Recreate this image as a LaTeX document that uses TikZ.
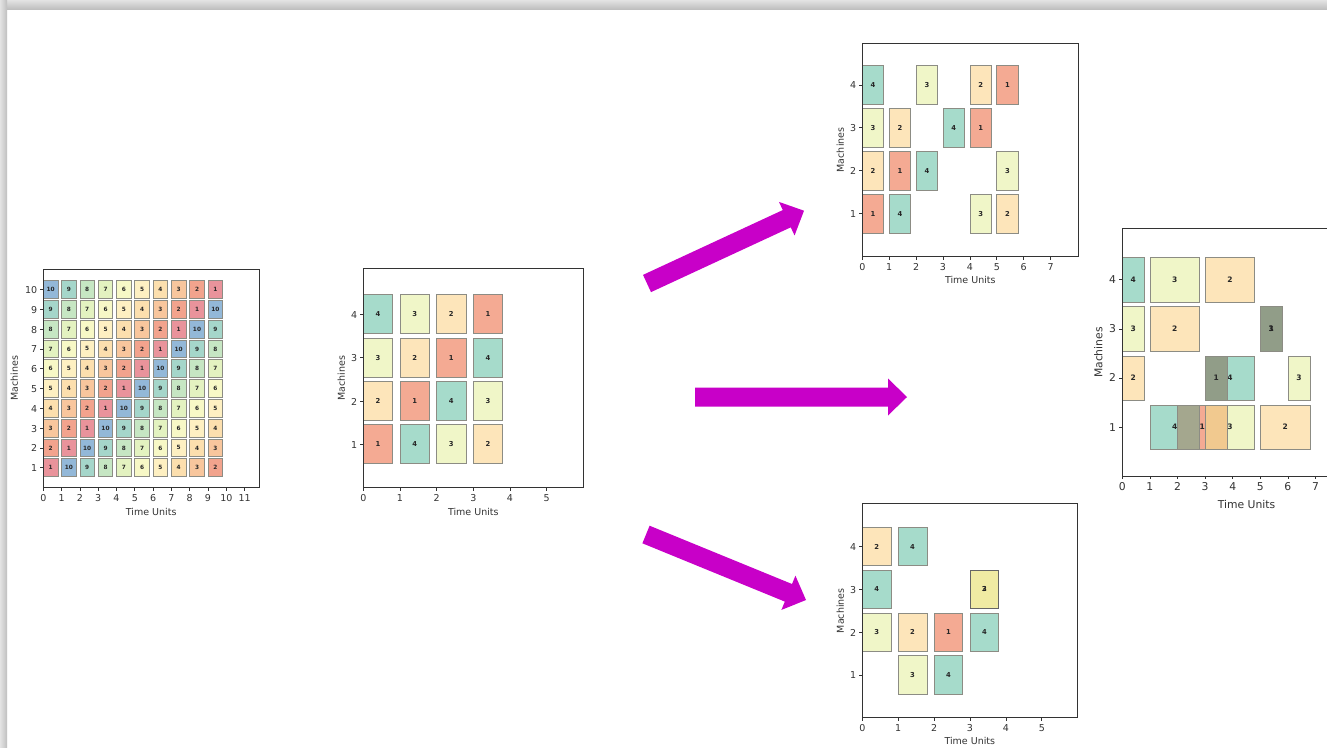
\documentclass[tikz,border=0pt]{standalone}
\usepackage{fontspec}
\setmainfont{DejaVu Sans}
\usetikzlibrary{calc}
\definecolor{sa1}{HTML}{E9939B}
\definecolor{sa2}{HTML}{F2A38D}
\definecolor{sa3}{HTML}{F8C69D}
\definecolor{sa4}{HTML}{FCDFAE}
\definecolor{sa5}{HTML}{FEF0C2}
\definecolor{sa6}{HTML}{F7F8C6}
\definecolor{sa7}{HTML}{E3F2C0}
\definecolor{sa8}{HTML}{C6E6C3}
\definecolor{sa9}{HTML}{A5D6CA}
\definecolor{sa10}{HTML}{93B8D8}
\definecolor{jb1}{HTML}{F4AA93}
\definecolor{jb2}{HTML}{FDE5BA}
\definecolor{jb3}{HTML}{F0F6C8}
\definecolor{jb4}{HTML}{A6DBCB}
\definecolor{dk1}{HTML}{919D88}
\definecolor{dk2}{HTML}{A4A78E}
\definecolor{orng}{HTML}{F1C98F}
\definecolor{ovy}{HTML}{F0EBA3}
\definecolor{arrowcol}{HTML}{C800C8}
\definecolor{edge}{HTML}{8C8C84}
\definecolor{axc}{HTML}{333333}

\newcounter{bn}
\newcommand\jobbox[5]{%
  \stepcounter{bn}%
  \filldraw[barstyle, fill=#1] (#3,#4-0.45) rectangle (#3+#5,#4+0.45);
  \node[barlab] (bx\arabic{bn}) at (#3+#5/2,#4) {#2};}

% #1 prefix #2 xmax #3 ymax #4 last xtick #5 last ytick #6 ylabel xshift #7 xlabel yshift
\newcommand\ganttframe[7]{%
  \draw[frame] (0,0) rectangle (#2,#3);
  \foreach \k in {0,...,#4}{\draw[tick] (\k,0) -- ++(0,-3pt);
    \node[ticklab] (#1x\k) at (\k,0) [yshift=-10pt] {\k};}
  \foreach \k in {1,...,#5}{\draw[tick] (0,\k) -- ++(-3pt,0);
    \node[ticklab,anchor=east] (#1y\k) at (0,\k) [xshift=-6pt] {\k};}
  \node[axlab] (#1xl) at (#2/2,0) [yshift=#7] {Time Units};
  \node[axlab, xshift=#6, rotate=90] (#1yl) at (0,#3/2) {Machines};}

\newcommand\blockarrow[2]{%
  \coordinate (#1b) at ($(#2)!19pt!(#1)$);
  \fill[arrowcol] ($(#1)!9.5pt!90:(#2)$) -- ($(#1b)!9.5pt!90:(#2)$) -- ($(#1b)!18.5pt!90:(#2)$)
    -- (#2) -- ($(#1b)!18.5pt!-90:(#2)$) -- ($(#1b)!9.5pt!-90:(#2)$) -- ($(#1)!9.5pt!-90:(#2)$) -- cycle;}

\begin{document}
\begin{tikzpicture}[x=1pt,y=-1pt,
  barstyle/.style={draw=edge, line width=0.8pt},
  barlab/.style={font=\fontsize{6.8}{7}\bfseries\selectfont, text=black!85, inner sep=0pt},
  frame/.style={draw=axc, line width=0.8pt},
  tick/.style={draw=axc, line width=0.7pt},
  ticklab/.style={font=\fontsize{9.5}{10}\selectfont, text=black!80, inner sep=0pt, text height=1.45ex, text depth=0pt},
  axlab/.style={font=\fontsize{9.5}{10}\selectfont, text=black!80, inner sep=0pt}]
\useasboundingbox (0,0) rectangle (1327,747);
\begin{scope}
\clip (0,0) rectangle (1327,747);
\fill[white] (0,0) rectangle (1327,747);
\shade[top color=gray!22, bottom color=gray!50] (0,0) rectangle (1327,9);
\shade[left color=gray!22, right color=gray!50] (0,0) rectangle (7,747);

% ---------- plot 1 : 10 x 10 ----------
\begin{scope}[xshift=43.3pt, yshift=-487.5pt, x=18.3pt, y=19.8pt,
  barlab/.append style={font=\fontsize{5.8}{6}\bfseries\selectfont}]
\foreach \m in {1,...,10}{\foreach \c in {0,...,9}{%
  \pgfmathtruncatemacro\jb{mod(\m-\c+9,10)+1}%
  \jobbox{sa\jb}{\jb}{\c}{\m}{0.8}}}
\ganttframe{pa}{11.79}{11.04}{11}{10}{-29pt}{-24pt}
\end{scope}

% ---------- plot 2 : 4 x 4 ----------
\begin{scope}[xshift=363.3pt, yshift=-487.7pt, x=36.67pt, y=43.33pt]
\foreach \m in {1,...,4}{\foreach \c in {0,...,3}{%
  \pgfmathtruncatemacro\jb{mod(\m-\c+7,4)+1}%
  \jobbox{jb\jb}{\jb}{\c}{\m}{0.8}}}
\ganttframe{pb}{6}{5.05}{5}{4}{-22pt}{-24pt}
\end{scope}

% ---------- plot 3 : top right ----------
\begin{scope}[xshift=862.3pt, yshift=-256.5pt, x=26.9pt, y=42.9pt]
\foreach \j/\t/\m in {4/0/4, 3/2/4, 2/4/4, 1/5/4,
                      3/0/3, 2/1/3, 4/3/3, 1/4/3,
                      2/0/2, 1/1/2, 4/2/2, 3/5/2,
                      1/0/1, 4/1/1, 3/4/1, 2/5/1}{%
  \jobbox{jb\j}{\j}{\t}{\m}{0.8}}
\ganttframe{pc}{8.03}{4.97}{7}{4}{-22pt}{-23pt}
\end{scope}

% ---------- plot 4 : bottom right ----------
\begin{scope}[xshift=862.3pt, yshift=-717.8pt, x=35.9pt, y=42.8pt]
\foreach \j/\t/\m in {2/0/4, 4/1/4,
                      4/0/3,
                      3/0/2, 2/1/2, 1/2/2, 4/3/2,
                      3/1/1, 4/2/1}{%
  \jobbox{jb\j}{\j}{\t}{\m}{0.8}}
\jobbox{ovy}{2}{3}{3}{0.8}
\draw[barstyle, draw=black!60] (3,2.55) rectangle (3.8,3.45);
\node[barlab] (pdov) at (3.4,3) {3};
\ganttframe{pd}{5.99}{5.0}{5}{4}{-22pt}{-23pt}
\end{scope}

% ---------- plot 5 : far right ----------
\begin{scope}[xshift=1122.3pt, yshift=-476.2pt, x=27.6pt, y=49.1pt,
  barlab/.append style={font=\fontsize{7.5}{8}\bfseries\selectfont},
  ticklab/.append style={font=\fontsize{10.8}{12}\selectfont},
  axlab/.append style={font=\fontsize{10.8}{12}\selectfont}]
\jobbox{jb4}{4}{0}{4}{0.8}
\jobbox{jb3}{3}{1}{4}{1.8}
\jobbox{jb2}{2}{3}{4}{1.8}
\jobbox{jb3}{3}{0}{3}{0.8}
\jobbox{jb2}{2}{1}{3}{1.8}
\jobbox{dk1}{1}{5}{3}{0.8}
\node[barlab] (peov) at (5.4,3) {3};
\jobbox{jb2}{2}{0}{2}{0.8}
\jobbox{jb4}{4}{3}{2}{1.8}
\jobbox{dk1}{1}{3}{2}{0.8}
\jobbox{jb3}{3}{6}{2}{0.8}
\jobbox{jb4}{4}{1}{1}{1.8}
\jobbox{jb1}{1}{2}{1}{1.8}
\jobbox{jb3}{3}{3}{1}{1.8}
\fill[dk2] (2,0.55) rectangle (2.8,1.45);
\fill[orng] (3,0.55) rectangle (3.8,1.45);
\draw[barstyle] (1,0.55) rectangle (2.8,1.45);
\draw[barstyle] (2,0.55) rectangle (3.8,1.45);
\draw[barstyle] (3,0.55) rectangle (4.8,1.45);
\jobbox{jb2}{2}{5}{1}{1.8}
\ganttframe{pe}{9}{5.04}{7}{4}{-24pt}{-28pt}
\end{scope}

% ---------- block arrows ----------
\coordinate (a1s) at (647,283.5); \coordinate (a1e) at (804,210.7);
\coordinate (a2s) at (695,397);   \coordinate (a2e) at (907,397);
\coordinate (a3s) at (646,534.5); \coordinate (a3e) at (806,600);
\blockarrow{a1s}{a1e}
\blockarrow{a2s}{a2e}
\blockarrow{a3s}{a3e}
\end{scope}
\end{tikzpicture}
\end{document}
